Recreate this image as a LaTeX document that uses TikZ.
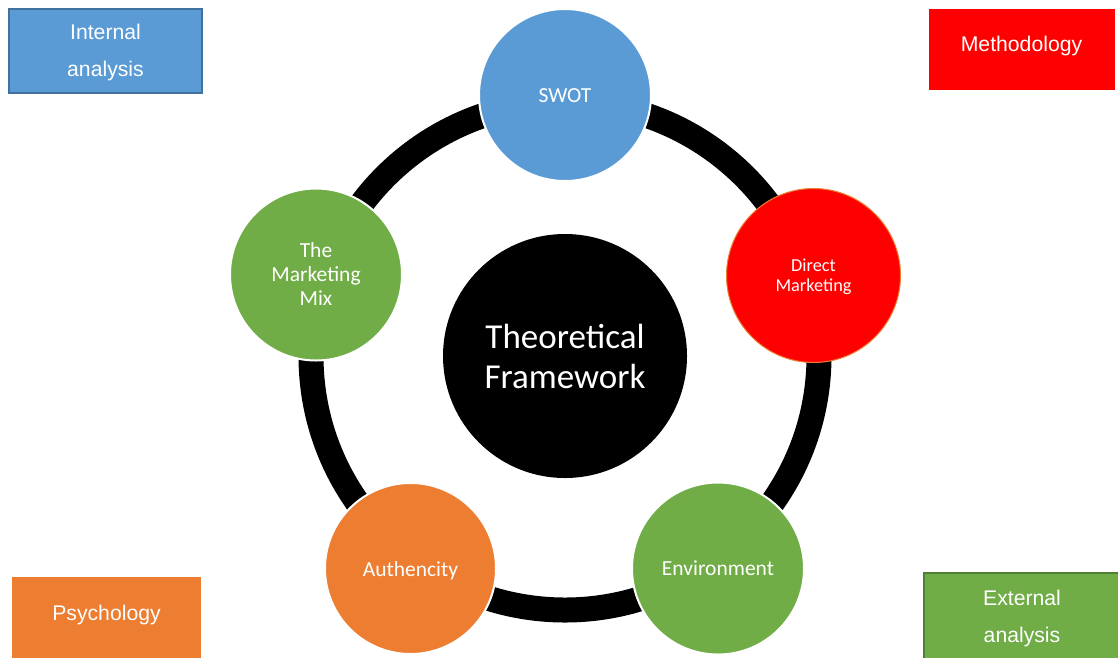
\documentclass[tikz,border=0pt]{standalone}
\usepackage{fontspec}
\setmainfont{Liberation Sans}
\newfontfamily\calib{Carlito}
\definecolor{cblue}{HTML}{5B9BD5}
\definecolor{cblueb}{HTML}{41719C}
\definecolor{cred}{HTML}{FF0000}
\definecolor{corange}{HTML}{ED7D31}
\definecolor{cgreen}{HTML}{70AD47}
\definecolor{cgreenb}{HTML}{507E32}
\newcommand{\shiftup}[2]{\raisebox{#1}[\height][\depth]{#2}}
\tikzset{
  bubble/.style={circle, inner sep=0pt, draw=white, line width=2pt, text=white,
    align=center, font=\calib\fontsize{21.5}{24}\selectfont},
  box/.style={rectangle, inner sep=0pt, text=white, align=center,
    font=\fontsize{21.2}{37}\selectfont},
  ring/.style={draw=black, line width=25pt}
}
\begin{document}
\begin{tikzpicture}[x=1pt,y=-1pt]
\useasboundingbox (0,0) rectangle (1118,657);
% center
\node[circle, fill=black, inner sep=0pt, minimum size=244pt, text=white, align=center,
  font=\calib\fontsize{35}{40}\selectfont] (tf) at (565,356) {Theoretical\\Framework};
\draw[ring] (tf.center) circle (254pt);
% bubbles
\node[bubble, fill=cblue, minimum size=172pt] (swot) at (565,95) {\shiftup{-1pt}{SWOT}};
\node[bubble, fill=cred, draw=corange, line width=1pt, minimum size=174pt,
  font=\calib\fontsize{18.3}{20}\selectfont] (dm) at (813.5,275.5) {\shiftup{-2pt}{\begin{tabular}{@{}c@{}}Direct\\Marketing\end{tabular}}};
\node[bubble, fill=cgreen, minimum size=172pt] (env) at (718,568.5) {Environment};
\node[bubble, fill=corange, minimum size=171pt] (auth) at (410.5,568.5) {\shiftup{-2pt}{Authencity}};
\node[bubble, fill=cgreen, minimum size=172pt] (mix) at (316,274.5) {The\\Marketing\\Mix};
% boxes
\node[box, fill=cblue, draw=cblueb, line width=2.5pt, minimum width=193pt, minimum height=84pt]
  (ia) at (105.5,51) {\begin{tabular}{@{}c@{}}Internal\\analysis\end{tabular}};
\node[box, fill=cred, minimum width=186pt, minimum height=81pt] (meth) at (1021.5,49.5) {\shiftup{3pt}{Methodology}};
\node[box, fill=corange, minimum width=189pt, minimum height=82pt] (psy) at (106.5,618) {\shiftup{3pt}{Psychology}};
\node[box, fill=cgreen, draw=cgreenb, line width=2.5pt, minimum width=196pt, minimum height=88pt]
  (ea) at (1022,617) {\begin{tabular}{@{}c@{}}External\\analysis\end{tabular}};
\end{tikzpicture}
\end{document}
